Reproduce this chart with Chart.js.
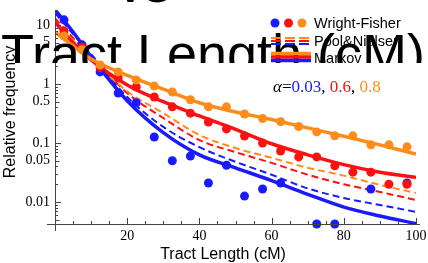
<!DOCTYPE html>
<html>
<head>
<meta charset="utf-8">
<script src="https://cdn.jsdelivr.net/npm/chart.js@4.4.0/dist/chart.umd.min.js"></script>
<style>
  html, body { margin: 0; padding: 0; background: #fff; }
  canvas { display: block; }
</style>
</head>
<body>
<canvas id="freqChart" width="428" height="263"></canvas>
<script>
// bin centres (cM) of the simulated Wright-Fisher points
const binCenters = [2.5, 7.5, 12.5, 17.5, 22.5, 27.5, 32.5, 37.5, 42.5, 47.5,
                    52.5, 57.5, 62.5, 67.5, 72.5, 77.5, 82.5, 87.5, 92.5, 97.5];
const wfBlue   = [12.2, 4.6, 1.6, 0.70, 0.48, 0.126, 0.05, 0.06, 0.021, 0.042,
                  0.0126, 0.0166, 0.021, null, 0.00424, 0.00424, null, 0.0166, null, 0.021];
const wfRed    = [7.9, 4.2, 1.9, 1.26, 0.89, 0.60, 0.41, 0.32, 0.227, 0.173,
                  0.131, 0.10, 0.073, 0.058, 0.058, 0.041, 0.032, 0.032, 0.020, 0.020];
const wfOrange = [6.5, 3.8, 2.1, 1.6, 1.17, 0.92, 0.73, 0.54, 0.41, 0.41,
                  0.31, 0.26, 0.23, 0.19, 0.154, 0.132, 0.132, 0.093, 0.093, 0.086];

// model curves
const curveX = [0, 5, 10, 20, 30, 40, 50, 60, 70, 80, 90, 100];
const markovBlue   = [18, 7.6, 2.9, 0.52, 0.15, 0.063, 0.038, 0.023, 0.0135, 0.0082, 0.0058, 0.0043];
const markovRed    = [11.2, 5.0, 2.55, 0.96, 0.50, 0.287, 0.17, 0.097, 0.063, 0.043, 0.032, 0.026];
const markovOrange = [7.6, 4.4, 2.65, 1.4, 0.82, 0.48, 0.335, 0.25, 0.18, 0.13, 0.093, 0.065];
const poolBlue   = [16, 7, 3.2, 0.6, 0.187, 0.085, 0.048, 0.029, 0.017, 0.0117, 0.0089, 0.0068];
const poolRed    = [13, 6, 2.9, 0.70, 0.265, 0.112, 0.07, 0.046, 0.029, 0.020, 0.0148, 0.0108];
const poolOrange = [11, 5.5, 2.7, 0.75, 0.32, 0.137, 0.082, 0.056, 0.038, 0.028, 0.0195, 0.0142];

const xTickLabels = [20, 40, 60, 80, 100];
const yTickLabels = [10, 5, 1, 0.5, 0.1, 0.05, 0.01];
const alphaLabels = ['0.03', '0.6', '0.8'];
const seriesNames = ['Wright-Fisher', 'Pool&Nielsen', 'Markov'];

const BLUE = '#1a1aff';
const RED = '#ff1010';
const ORANGE = '#ff8c1a';
const colors = [BLUE, RED, ORANGE];

const SANS = '"Liberation Sans", Arial, sans-serif';
const SERIF = '"Liberation Serif", "Times New Roman", serif';

function pts(xs, ys) {
    return xs.map((x, i) => ({ x: x, y: ys[i] })).filter(p => p.y !== null);
}

function dots(values, color, order) {
    return {
        data: pts(binCenters, values),
        showLine: false,
        pointRadius: 4.5,
        pointHoverRadius: 4.5,
        pointBorderWidth: 0,
        pointBackgroundColor: color,
        clip: false,
        order: order
    };
}

function curve(values, color, dashed, order) {
    return {
        data: pts(curveX, values),
        showLine: true,
        borderColor: color,
        borderWidth: dashed ? 2 : 3.5,
        borderDash: dashed ? [7, 4] : [],
        cubicInterpolationMode: 'monotone',
        pointRadius: 0,
        order: order
    };
}

// axes, ticks, titles and legend drawn Mathematica style
const decorPlugin = {
    id: 'decor',
    afterDraw(chart) {
        const ctx = chart.ctx;
        const xs = chart.scales.x;
        const ys = chart.scales.y;
        const area = chart.chartArea;
        const x0 = xs.getPixelForValue(0);
        const yb = area.bottom;

        ctx.save();
        ctx.strokeStyle = '#444';
        ctx.lineWidth = 1;
        ctx.beginPath();
        ctx.moveTo(47, yb + 0.5);
        ctx.lineTo(420, yb + 0.5);
        ctx.moveTo(x0 + 0.5, area.top);
        ctx.lineTo(x0 + 0.5, yb + 7);
        ctx.stroke();

        // x ticks
        ctx.beginPath();
        for (let v = 5; v <= 100; v += 5) {
            const px = Math.round(xs.getPixelForValue(v)) + 0.5;
            const len = v % 20 === 0 ? 6 : 3;
            ctx.moveTo(px, yb);
            ctx.lineTo(px, yb - len);
        }
        // y ticks
        [0.001, 0.01, 0.1, 1, 10].forEach(d => {
            for (let m = 1; m <= 9; m++) {
                const v = m * d;
                if (v < ys.min || v > ys.max) continue;
                const py = Math.round(ys.getPixelForValue(v)) + 0.5;
                const len = m === 1 ? 6 : (m === 5 ? 4.5 : 3);
                ctx.moveTo(x0, py);
                ctx.lineTo(x0 + len, py);
            }
        });
        ctx.stroke();

        ctx.fillStyle = '#000';
        ctx.font = '14px ' + SERIF;
        ctx.textAlign = 'center';
        ctx.textBaseline = 'alphabetic';
        xTickLabels.forEach(v => {
            ctx.fillText(String(v), xs.getPixelForValue(v), 240);
        });
        ctx.textAlign = 'right';
        ctx.textBaseline = 'middle';
        yTickLabels.forEach(v => {
            ctx.fillText(String(v), 50, ys.getPixelForValue(v));
        });

        // axis titles
        ctx.font = '16px ' + SANS;
        ctx.textAlign = 'center';
        ctx.textBaseline = 'alphabetic';
        ctx.fillText('Tract Length (cM)', 223, 259);
        ctx.save();
        ctx.translate(15, 112);
        ctx.rotate(-Math.PI / 2);
        ctx.fillText('Relative frequency', 0, 0);
        ctx.restore();

        // oversized stray title, cut off at the top
        ctx.save();
        ctx.beginPath();
        ctx.rect(0, 0, chart.width, 63);
        ctx.clip();
        ctx.font = '54px ' + SANS;
        ctx.textAlign = 'center';
        ctx.fillText('Tract Length (cM)', 213, 71.5);
        ctx.textAlign = 'left';
        ctx.fillText('vs', 117, 1.5);
        ctx.restore();

        // legend
        colors.forEach((c, i) => {
            ctx.fillStyle = c;
            ctx.beginPath();
            ctx.arc(275 + i * 13.5, 23, 4.5, 0, Math.PI * 2);
            ctx.fill();
        });
        [ORANGE, RED, BLUE].forEach((c, i) => {
            ctx.strokeStyle = c;
            ctx.lineWidth = 2;
            ctx.setLineDash([10, 4]);
            ctx.beginPath();
            ctx.moveTo(271, 38 + i * 3);
            ctx.lineTo(311, 38 + i * 3);
            ctx.stroke();
            ctx.setLineDash([]);
            ctx.lineWidth = 3.5;
            ctx.beginPath();
            ctx.moveTo(271, 53.5 + i * 3.5);
            ctx.lineTo(311, 53.5 + i * 3.5);
            ctx.stroke();
        });
        ctx.fillStyle = '#000';
        ctx.font = '14.5px ' + SANS;
        ctx.textAlign = 'left';
        seriesNames.forEach((name, i) => {
            ctx.fillText(name, 314, 28 + i * 17.5);
        });

        // alpha values
        let ax = 273;
        const ay = 92;
        ctx.font = 'italic 17px ' + SERIF;
        ctx.fillText('\u03b1', ax, ay);
        ax += ctx.measureText('\u03b1').width;
        ctx.font = '17px ' + SERIF;
        ctx.fillText('=', ax, ay);
        ax += ctx.measureText('=').width;
        alphaLabels.forEach((lab, i) => {
            ctx.fillStyle = colors[i];
            ctx.fillText(lab, ax, ay);
            ax += ctx.measureText(lab).width;
            if (i < alphaLabels.length - 1) {
                ctx.fillStyle = '#000';
                ctx.fillText(', ', ax, ay);
                ax += ctx.measureText(', ').width;
            }
        });
        ctx.restore();
    }
};

new Chart(document.getElementById('freqChart').getContext('2d'), {
    type: 'scatter',
    data: {
        datasets: [
            dots(wfOrange, ORANGE, 0),
            dots(wfRed, RED, 1),
            dots(wfBlue, BLUE, 2),
            curve(markovOrange, ORANGE, false, 3),
            curve(markovRed, RED, false, 4),
            curve(markovBlue, BLUE, false, 5),
            curve(poolOrange, ORANGE, true, 6),
            curve(poolRed, RED, true, 7),
            curve(poolBlue, BLUE, true, 8)
        ]
    },
    options: {
        responsive: false,
        animation: false,
        devicePixelRatio: 1,
        layout: { padding: { left: 55, top: 10, right: 12, bottom: 39 } },
        plugins: {
            legend: { display: false },
            tooltip: { enabled: false }
        },
        scales: {
            x: { type: 'linear', min: 0, max: 100, display: false },
            y: { type: 'logarithmic', min: 0.00424, max: 17.9, display: false }
        }
    },
    plugins: [decorPlugin]
});
</script>
</body>
</html>
